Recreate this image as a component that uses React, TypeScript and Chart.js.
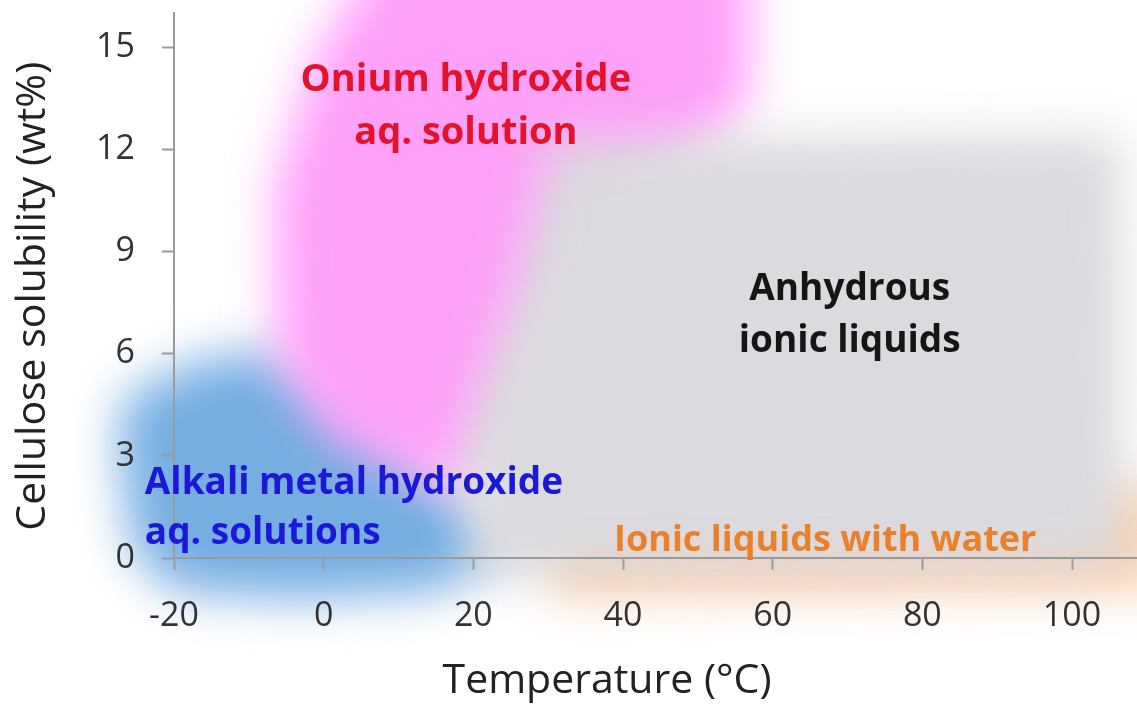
import React, { useEffect, useRef } from "react";
import { Chart, registerables } from "chart.js";

Chart.register(...registerables);

// ---- data ----
const xTicks = [-20, 0, 20, 40, 60, 80, 100];
const yTicks = [0, 3, 6, 9, 12, 15];
const X_MIN = -20;
const X_MAX = 100;
const Y_MIN = 0;
const Y_MAX = 16;

const xTitle = "Temperature (°C)";
const yTitle = "Cellulose solubility (wt%)";

// region outlines (temperature °C, solubility wt%)
const greyRegion = [
  { x: 30.5, y: 12.3 },
  { x: 106.5, y: 12.4 },
  { x: 107.0, y: -0.3 },
  { x: 20.0, y: -0.5 },
  { x: 18.5, y: 3.5 },
  { x: 25.5, y: 7.8 },
];
const orangeRegion = [
  { x: 30.0, y: 1.4 },
  { x: 96.0, y: 1.4 },
  { x: 112.0, y: 2.4 },
  { x: 112.0, y: -0.9 },
  { x: 30.0, y: -1.1 },
];
const pinkRegion = [
  { x: 8.0, y: 18.0 },
  { x: 57.0, y: 18.0 },
  { x: 57.0, y: 13.4 },
  { x: 51.0, y: 12.1 },
  { x: 37.5, y: 10.4 },
  { x: 29.5, y: 6.7 },
  { x: 24.5, y: 3.3 },
  { x: 17.5, y: 1.9 },
  { x: 0.8, y: 3.5 },
  { x: -6.2, y: 5.8 },
  { x: -6.6, y: 10.8 },
  { x: -1.5, y: 14.6 },
];
const blueRegion = [
  { x: -27.5, y: 3.5 },
  { x: -26.3, y: 4.8 },
  { x: -16.5, y: 5.8 },
  { x: -7.6, y: 6.1 },
  { x: -0.9, y: 5.2 },
  { x: 7.9, y: 4.0 },
  { x: 15.0, y: 2.4 },
  { x: 22.3, y: 1.1 },
  { x: 24.5, y: 0.0 },
  { x: 15.0, y: -1.0 },
  { x: -3.2, y: -1.2 },
  { x: -19.5, y: -1.0 },
  { x: -25.5, y: 0.15 },
];

// region labels, anchored in data coordinates (one entry per text line)
const labelLines = [
  { text: "Onium hydroxide", x: 19.0, y: 14.03, group: "onium" },
  { text: "aq. solution", x: 19.0, y: 12.48, group: "onium" },
  { text: "Anhydrous", x: 70.3, y: 7.87, group: "anhydrous" },
  { text: "ionic liquids", x: 70.3, y: 6.37, group: "anhydrous" },
  { text: "Alkali metal hydroxide", x: -23.9, y: 2.2, group: "alkali" },
  { text: "aq. solutions", x: -23.9, y: 0.73, group: "alkali" },
  { text: "Ionic liquids with water", x: 38.8, y: 0.5, group: "water" },
];

// ---- styles ----
const FONT = "'Open Sans', 'DejaVu Sans', sans-serif";
const AXIS_COLOR = "#9b9b9b";
const BLUR_PX = 24;

const groupStyles: Record<string, { color: string; align: CanvasTextAlign; size: number }> = {
  onium: { color: "#e5122c", align: "center", size: 38 },
  anhydrous: { color: "#151515", align: "center", size: 37 },
  alkali: { color: "#1b18d8", align: "left", size: 37 },
  water: { color: "#e9812c", align: "left", size: 36 },
};

const regionPlugin = {
  id: "blurRegions",
  beforeDatasetDraw(chart: any, args: any) {
    const ds = chart.data.datasets[args.index];
    const pts = args.meta.data;
    if (!pts || !pts.length) return false;
    const ctx = chart.ctx;
    ctx.save();
    ctx.filter = `blur(${BLUR_PX}px)`;
    ctx.fillStyle = ds.backgroundColor;
    ctx.beginPath();
    pts.forEach((p: any, i: number) => {
      if (i === 0) ctx.moveTo(p.x, p.y);
      else ctx.lineTo(p.x, p.y);
    });
    ctx.closePath();
    ctx.fill();
    ctx.restore();
    return false;
  },
};

const labelPlugin = {
  id: "regionLabels",
  afterDraw(chart: any) {
    const ctx = chart.ctx;
    const xs = chart.scales.x;
    const ys = chart.scales.y;
    // axis line continues to the right edge
    const y0 = ys.getPixelForValue(0);
    ctx.save();
    ctx.strokeStyle = AXIS_COLOR;
    ctx.lineWidth = 2;
    ctx.beginPath();
    ctx.moveTo(chart.chartArea.right, y0);
    ctx.lineTo(chart.width, y0);
    ctx.stroke();
    ctx.restore();

    ctx.save();
    ctx.textBaseline = "middle";
    labelLines.forEach((l) => {
      const st = groupStyles[l.group];
      ctx.font = `bold ${st.size}px ${FONT}`;
      ctx.fillStyle = st.color;
      ctx.textAlign = st.align;
      ctx.fillText(l.text, xs.getPixelForValue(l.x), ys.getPixelForValue(l.y));
    });
    ctx.restore();
  },
};

function axisOpts(extra: any) {
  return {
    type: "linear",
    border: { display: true, color: AXIS_COLOR, width: 2, z: 1 },
    grid: {
      drawOnChartArea: false,
      drawTicks: true,
      tickLength: 12,
      tickWidth: 2,
      tickColor: AXIS_COLOR,
      color: AXIS_COLOR,
      z: 1,
    },
    ...extra,
  };
}

export default function App() {
  const ref = useRef<HTMLCanvasElement>(null);

  useEffect(() => {
    const canvas = ref.current;
    if (!canvas) return;
    const chart = new Chart(canvas, {
      type: "scatter",
      data: {
        datasets: [
          { label: "Anhydrous ionic liquids", data: greyRegion, backgroundColor: "rgb(219,218,223)", pointRadius: 0, clip: false },
          { label: "Ionic liquids with water", data: orangeRegion, backgroundColor: "rgba(250,196,152,0.85)", pointRadius: 0, clip: false },
          { label: "Onium hydroxide aq. solution", data: pinkRegion, backgroundColor: "rgb(255,161,249)", pointRadius: 0, clip: false },
          { label: "Alkali metal hydroxide aq. solutions", data: blueRegion, backgroundColor: "rgb(118,174,226)", pointRadius: 0, clip: false },
        ],
      },
      options: {
        responsive: false,
        animation: false,
        events: [],
        layout: { padding: { left: 0, top: 13, right: 65, bottom: 0 } },
        plugins: {
          legend: { display: false },
          tooltip: { enabled: false },
        },
        scales: {
          x: axisOpts({
            min: X_MIN,
            max: X_MAX,
            afterBuildTicks: (scale: any) => {
              scale.ticks = xTicks.map((v) => ({ value: v }));
            },
            afterFit: (scale: any) => {
              scale.height = 150;
              scale.paddingLeft = 0;
              scale.paddingRight = 0;
            },
            ticks: {
              autoSkip: false,
              maxRotation: 0,
              padding: 26,
              color: "#333",
              z: 1,
              font: { family: FONT, size: 34 },
              callback: (v: any) => String(v),
            },
            title: {
              display: true,
              text: xTitle + "   ",
              color: "#222",
              font: { family: FONT, size: 41 },
              padding: { top: 0, bottom: 2 },
            },
          }),
          y: axisOpts({
            min: Y_MIN,
            max: Y_MAX,
            afterBuildTicks: (scale: any) => {
              scale.ticks = yTicks.map((v) => ({ value: v }));
            },
            afterFit: (scale: any) => {
              scale.width = 174;
              scale.paddingTop = 0;
              scale.paddingBottom = 0;
            },
            ticks: {
              padding: 27,
              color: "#333",
              z: 1,
              font: { family: FONT, size: 34 },
              callback: (v: any) => String(v),
            },
            title: {
              display: true,
              text: yTitle + "  ",
              color: "#222",
              font: { family: FONT, size: 41 },
              padding: { top: 9, bottom: 0 },
            },
          }),
        },
      },
      plugins: [regionPlugin, labelPlugin],
    } as any);
    return () => chart.destroy();
  }, []);

  return (
    <div style={{ position: "fixed", left: 0, top: 0, width: 1137, height: 708, background: "#fff" }}>
      <canvas ref={ref} width={1137} height={708} style={{ display: "block" }} />
    </div>
  );
}
